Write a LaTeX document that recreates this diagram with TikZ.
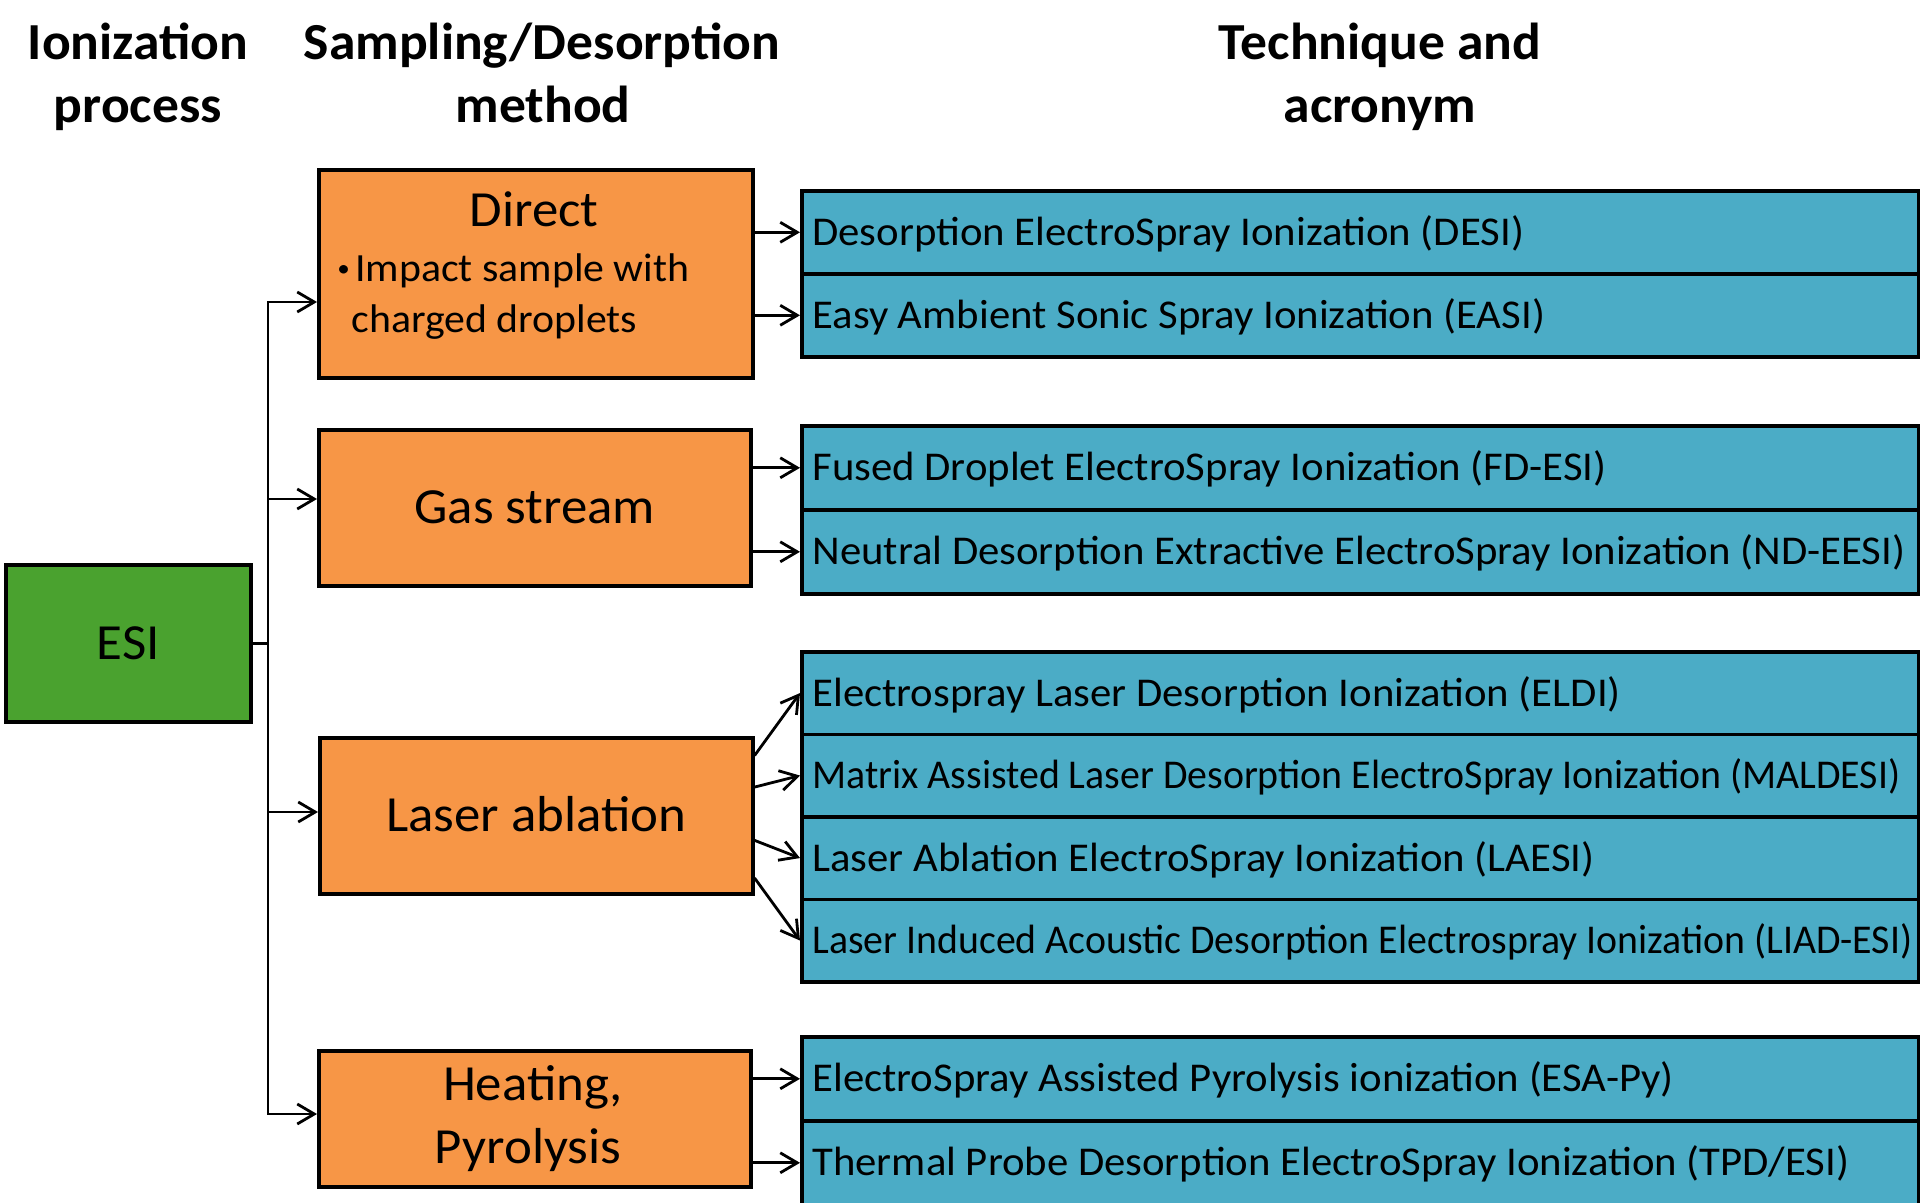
\documentclass[tikz,border=0pt]{standalone}
\usepackage{graphicx}
\usepackage{fontspec}
\setmainfont{Carlito}[FakeStretch=1.045, BoldFeatures={FakeStretch=1.03}]
\usetikzlibrary{arrows.meta,calc}
\definecolor{orangebox}{HTML}{F79646}
\definecolor{greenbox}{HTML}{4AA22F}
\definecolor{bluebox}{HTML}{4BACC6}
\tikzset{barbtip/.tip={Straight Barb[length=8.5pt,width=10pt,line width=1.4pt]}}
\begin{document}
\begin{tikzpicture}[x=0.5pt,y=-0.5pt,
  boxline/.style={draw=black, line width=1.8pt},
  esibox/.style={boxline, fill=greenbox, anchor=north west, inner sep=0pt, minimum width=122.5pt, minimum height=78.5pt},
  methbox/.style={boxline, fill=orangebox, anchor=north west, inner sep=0pt},
  techbox/.style={boxline, fill=bluebox, anchor=north west, inner sep=0pt, minimum width=558.5pt},
  bigfont/.style={font=\fontsize{25.3pt}{31.5pt}\selectfont},
  smallfont/.style={font=\fontsize{20pt}{24pt}\selectfont},
  capcenter/.style={text height=16pt, text depth=0pt},
  techtext/.style={font=\fontsize{20.45pt}{24pt}\selectfont, anchor=base west, inner sep=0pt, xshift=6pt, yshift=-6.5pt},
  headtext/.style={font=\bfseries\fontsize{26pt}{31.5pt}\selectfont, anchor=base, inner sep=0pt},
  conn/.style={line width=1.4pt},
  arr/.style={conn, -barbtip},
]
\useasboundingbox (0,0) rectangle (1920,1203);

% headers
\node[headtext] (h1a) at (138,60) {Ionization};
\node[headtext] (h1b) at (138,123) {process};
\node[headtext] (h2a) at (542,60) {Sampling/Desorption};
\node[headtext] (h2b) at (543,123) {method};
\node[headtext] (h3a) at (1380,60) {Technique and};
\node[headtext] (h3b) at (1380,123) {acronym};

% ionization process
\node[esibox, bigfont, capcenter] (esi) at (4,563) {ESI};

% sampling / desorption methods
\node[methbox, minimum width=217pt, minimum height=104pt] (dir) at (317,168) {};
\node[bigfont, anchor=base, inner sep=0pt] (dir1) at (534,227) {Direct};
\node[smallfont, anchor=base west, inner sep=0pt] (dir2) at (337,282) {\makebox[9pt][l]{\raisebox{2.6pt}{\scalebox{0.6}{•}}}Impact sample with};
\node[smallfont, anchor=base west, inner sep=0pt] (dir3) at (351,333) {charged droplets};

\node[methbox, bigfont, capcenter, minimum width=216pt, minimum height=78pt] (gas) at (317,428) {Gas stream};
\node[methbox, bigfont, capcenter, minimum width=216.5pt, minimum height=78pt] (las) at (318,736) {Laser ablation\hspace{6pt}};

\node[methbox, minimum width=216pt, minimum height=68pt] (heat) at (317,1049) {};
\node[bigfont, anchor=base, inner sep=0pt] (heat1) at (533,1100) {Heating,};
\node[bigfont, anchor=base, inner sep=0pt] (heat2) at (528,1163) {Pyrolysis};

% techniques
\node[techbox, minimum height=41.5pt] (b1) at (800,189) {};
\node[techbox, minimum height=41.5pt] (b2) at (800,272) {};
\node[techbox, minimum height=42pt] (b3) at (800,424) {};
\node[techbox, minimum height=42pt] (b4) at (800,508) {};
\node[techbox, minimum height=41.25pt] (b5) at (800,650) {};
\node[techbox, minimum height=41.25pt] (b6) at (800,732.5) {};
\node[techbox, minimum height=41.25pt] (b7) at (800,815) {};
\node[techbox, minimum height=41.25pt] (b8) at (800,897.5) {};
\node[techbox, minimum height=42pt] (b9) at (800,1035) {};
\node[techbox, minimum height=42pt] (b10) at (800,1119) {};

\node[techtext] (b1t) at (b1.west) {Desorption ElectroSpray Ionization (DESI)};
\node[techtext] (b2t) at (b2.west) {Easy Ambient Sonic Spray Ionization (EASI)};
\node[techtext] (b3t) at (b3.west) {Fused Droplet ElectroSpray Ionization (FD-ESI)};
\node[techtext] (b4t) at (b4.west) {Neutral Desorption Extractive ElectroSpray Ionization (ND-EESI)};
\node[techtext] (b5t) at (b5.west) {Electrospray Laser Desorption Ionization (ELDI)};
\node[techtext] (b6t) at (b6.west) {\resizebox{544pt}{\height}{Matrix Assisted Laser Desorption ElectroSpray Ionization (MALDESI)}};
\node[techtext] (b7t) at (b7.west) {Laser Ablation ElectroSpray Ionization (LAESI)};
\node[techtext] (b8t) at (b8.west) {\resizebox{550pt}{\height}{Laser Induced Acoustic Desorption Electrospray Ionization (LIAD-ESI)}};
\node[techtext] (b9t) at (b9.west) {ElectroSpray Assisted Pyrolysis ionization (ESA-Py)};
\node[techtext] (b10t) at (b10.west) {Thermal Probe Desorption ElectroSpray Ionization (TPD/ESI)};

% trunk from ESI
\coordinate (t1) at (268,302);
\coordinate (t2) at (268,499);
\coordinate (t3) at (268,812);
\coordinate (t4) at (268,1114);
\draw[conn] (esi.east) -- (esi.east -| t1);
\draw[conn, barbtip-barbtip] (t1 -| dir.west) -- (t1) -- (t4) -- (t4 -| heat.west);
\draw[arr] (t2) -- (t2 -| gas.west);
\draw[arr] (t3) -- (t3 -| las.west);

% methods to techniques
\draw[arr] (b1.west -| dir.east) -- (b1.west);
\draw[arr] (b2.west -| dir.east) -- (b2.west);
\draw[arr] (b3.west -| gas.east) -- (b3.west);
\draw[arr] (b4.west -| gas.east) -- (b4.west);
\draw[arr] ($(las.north east)!0.122!(las.south east)$) -- (b5.west);
\draw[arr] ($(las.north east)!0.32!(las.south east)$) -- (b6.west);
\draw[arr] ($(las.north east)!0.654!(las.south east)$) -- (b7.west);
\draw[arr] ($(las.north east)!0.89!(las.south east)$) -- (b8.west);
\draw[arr] (b9.west -| heat.east) -- (b9.west);
\draw[arr] (b10.west -| heat.east) -- (b10.west);
\end{tikzpicture}
\end{document}
